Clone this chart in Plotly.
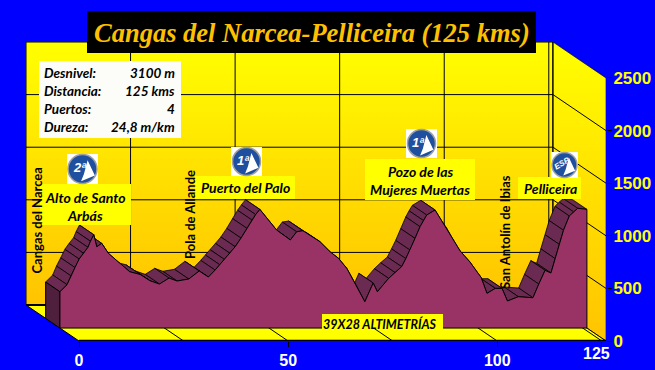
import plotly.graph_objects as go

# Data
km = [0,1.7,2.6,3.6,4.6,5.6,6.7,7.3,8.1,8.8,10.0,11.6,14.3,16.7,19.2,21.5,23.8,26.1,28.0,30.8,33.3,35.5,37.1,38.2,39.3,40.6,41.9,43.3,44.7,45.9,46.8,47.8,51.8,55.1,56.6,58.1,62.2,64.6,66.6,68.6,70.6,72.9,74.9,75.9,78.6,80.1,81.7,82.7,83.7,84.9,86.1,86.9,87.7,89.7,90.9,92.5,94.1,95.7,98.0,99.7,100.7,102.1,104.1,105.7,107.0,109.6,113.1,114.5,116.0,117.4,118.4,119.4,120.4,121.8,122.8,123.8,126]
alt = [345,412,497,575,656,712,767,825,887,773,805,710,615,535,509,450,418,475,447,466,542,485,551,602,653,712,773,855,948,1027,1078,1128,932,837,915,925,820,725,663,567,425,250,428,345,472,528,583,660,741,852,963,1022,1074,1122,1043,948,837,732,630,535,482,330,377,377,257,298,288,418,548,523,660,795,929,1065,1105,1138,1128]
x_ticks = [0, 50, 100, 125]
x_grid = [0, 25, 50, 75, 100, 125]
y_ticks = [0, 500, 1000, 1500, 2000, 2500]
title = "Cangas del Narcea-Pelliceira (125 kms)"
stats = [("Desnivel:", "3100 m"), ("Distancia:", "125 kms"), ("Puertos:", "4"), ("Dureza:", "24,8 m/km")]
km_max = 126
alt_max = 2500

# Oblique projection
DX, DY = 12.68, 342
RIB_F, RIB_B = 0.36, 0.63
def px(k, d): return k - DX * d
def py(a, d): return a + DY * d

W, H = 655, 370
L, R, T, B = 26, 49, 42, 29
PW, PH = W - L - R, H - T - B
def fx(X): return (X - L) / PW
def fy(Y): return (H - B - Y) / PH

BLACK = "#000000"
fig = go.Figure()

def poly(xs, ys, fill=None, line=BLACK, w=1, grad=None, mode="lines"):
    kw = dict(x=xs, y=ys, mode=mode, hoverinfo="skip", showlegend=False, cliponaxis=False,
              line=dict(color=line, width=w))
    if grad:
        kw["fill"] = "toself"; kw["fillgradient"] = grad
    elif fill:
        kw["fill"] = "toself"; kw["fillcolor"] = fill
    fig.add_trace(go.Scatter(**kw))

grad = dict(type="vertical", colorscale=[[0, "#FFC400"], [0.5, "#FFE000"], [1, "#FFFF00"]])
# back wall
poly([px(0,1), px(km_max,1), px(km_max,1), px(0,1), px(0,1)],
     [py(0,1), py(0,1), py(alt_max,1), py(alt_max,1), py(0,1)], grad=grad, w=1)
# right wall
poly([px(km_max,1), px(km_max,0), px(km_max,0), px(km_max,1), px(km_max,1)],
     [py(0,1), py(0,0), py(alt_max,0), py(alt_max,1), py(0,1)], grad=grad, w=0.6)
# floor
poly([px(0,1), px(km_max,1), px(km_max,0), px(0,0), px(0,1)],
     [py(0,1), py(0,1), py(0,0), py(0,0), py(0,1)], fill="#FFFF00", w=1)
# grid
for v in y_ticks[1:-1]:
    poly([px(0,1), px(km_max,1), px(km_max,0)], [py(v,1), py(v,1), py(v,0)])
for v in x_grid[1:]:
    poly([px(v,1), px(v,1), px(v,0)], [py(alt_max,1), py(0,1), py(0,0)])
poly([px(km_max,1), px(km_max,1)], [py(0,1), py(alt_max,1)])
# heavy floor lines
poly([px(0,1), px(km_max,1)], [py(0,1), py(0,1)], w=2)
poly([px(0,0), px(km_max,0)], [py(0,0), py(0,0)], w=2.5)

# ribbon: top surface, far (right) segments first
RIB = "#6B2A52"
for i in range(len(km) - 2, -1, -1):
    a, b = i, i + 1
    poly([px(km[a],RIB_F), px(km[b],RIB_F), px(km[b],RIB_B), px(km[a],RIB_B), px(km[a],RIB_F)],
         [py(alt[a],RIB_F), py(alt[b],RIB_F), py(alt[b],RIB_B), py(alt[a],RIB_B), py(alt[a],RIB_F)],
         fill=RIB, w=0.8)
# left cap
poly([px(0,RIB_F), px(0,RIB_B), px(0,RIB_B), px(0,RIB_F), px(0,RIB_F)],
     [py(0,RIB_F), py(0,RIB_B), py(alt[0],RIB_B), py(alt[0],RIB_F), py(0,RIB_F)], fill="#4F1F3E", w=1)
# front face
fig.add_trace(go.Scatter(
    x=[px(km[0],RIB_F)] + [px(k,RIB_F) for k in km] + [px(km[-1],RIB_F), px(km[0],RIB_F)],
    y=[py(0,RIB_F)] + [py(a,RIB_F) for a in alt] + [py(0,RIB_F), py(0,RIB_F)],
    mode="lines", fill="toself", fillcolor="#993366", line=dict(color=BLACK, width=1),
    hoverinfo="skip", showlegend=False, cliponaxis=False))

shapes, ann = [], []
def rect(x0, y0, x1, y1, color):
    shapes.append(dict(type="rect", xref="paper", yref="paper", x0=fx(x0), x1=fx(x1), y0=fy(y1), y1=fy(y0),
                       fillcolor=color, line=dict(width=0), layer="above"))
def text(X, Y, s, size, family="Lato", color=BLACK, anchor="center", angle=0):
    ann.append(dict(xref="paper", yref="paper", x=fx(X), y=fy(Y), text=s, showarrow=False,
                    xanchor=anchor, yanchor="middle", textangle=angle,
                    font=dict(family=family, size=size, color=color)))

# title
rect(87, 11, 536, 53, "#000000")
text(311.5, 33, "<b><i>%s</i></b>" % title, 26.5, family="Liberation Serif", color="#FFC000")

# stats
rect(39, 61, 181, 138, "#FCFDF8")
for row, (lab, val) in enumerate(stats):
    y = 73 + 18 * row
    text(42, y, "<b><i>%s</i></b>" % lab, 13.5, anchor="left")
    text(177, y, "<b><i>%s</i></b>" % val, 13.5, anchor="right")

# yellow labels
for (x0, y0, x1, y1) in [(40,184,131,225), (195,176,295,199), (365,159,475,200), (518,177,581,199), (322,314,443,329)]:
    rect(x0, y0, x1, y1, "#FFFF00")
for (X, Y, s) in [(85,197,"Alto de Santo"), (85,215,"Arbás"), (245,187.5,"Puerto del Palo"),
                  (420,171,"Pozo de las"), (420,189,"Mujeres Muertas"), (550,188,"Pelliceira")]:
    text(X, Y, "<b><i>%s</i></b>" % s, 14)
text(380, 324, "<b><i>39X28 ALTIMETRÍAS</i></b>", 12.5)

# vertical labels
text(36.5, 221, "<b>Cangas del Narcea</b>", 13, angle=-90)
text(190, 215, "<b>Pola de Allande</b>", 13, angle=-90)
text(505, 232, "<b>San Antolín de Ibias</b>", 13, angle=-90)

# pass badges
for (x0, y0, x1, y1, lab, ang, sz) in [(67,154,98,184,"2ª",0,13), (231,147,262,176,"1ª",0,13),
                                       (406,129,437,158,"1ª",0,13), (551,152,578,178,"ESP",-30,8)]:
    rect(x0, y0, x1, y1, "#FFFFFF")
    cx, cy = (x0 + x1) / 2, (y0 + y1) / 2
    r = min(x1 - x0, y1 - y0) / 2 - 0.5
    shapes.append(dict(type="circle", xref="paper", yref="paper", x0=fx(cx-r), x1=fx(cx+r), y0=fy(cy+r), y1=fy(cy-r),
                       fillcolor="#1F50A0", line=dict(color="#A0A0A0", width=1.5), layer="above"))
    pts = [(cx+r*0.85, cy+r*0.45), (cx+r*0.35, cy-r*0.6), (cx+r*0.1, cy+r*0.35), (cx-r*0.1, cy+r*0.85)]
    path = "M" + " L".join("%.4f,%.4f" % (fx(a), fy(b)) for a, b in pts) + " Z"
    shapes.append(dict(type="path", xref="paper", yref="paper", path=path, fillcolor="#FFFFFF", line=dict(width=0), layer="above"))
    text(cx - r*0.2, cy - r*0.1, "<b><i>%s</i></b>" % lab, sz, family="Liberation Sans", color="#FFFFFF", angle=ang)

# 125 sits up-left of its tick
ann.append(dict(xref="x", yref="paper", x=125, y=fy(353.5), text="<b>125</b>", showarrow=False, xshift=-5,
                xanchor="center", yanchor="middle", font=dict(family="Liberation Sans", size=16, color="#FFFFFF")))

fig.update_layout(
    width=W, height=H, autosize=False,
    margin=dict(l=L, r=R, t=T, b=B, pad=0),
    paper_bgcolor="#0000FF", plot_bgcolor="rgba(0,0,0,0)",
    showlegend=False, shapes=shapes, annotations=ann,
    xaxis=dict(range=[-DX, km_max], automargin=False, tickmode="array", tickvals=x_ticks,
               ticktext=["<b>0</b>", "<b>50</b>", "<b>100</b>", ""],
               ticks="outside", ticklen=5, tickcolor=BLACK, tickwidth=1, showgrid=False, zeroline=False, showline=False,
               tickfont=dict(family="Liberation Sans", size=16, color="#FFFFFF")),
    yaxis=dict(range=[0, alt_max + DY], automargin=False, side="right", tickmode="array", tickvals=y_ticks,
               ticktext=["<b>%d</b>" % v for v in y_ticks], ticklabelstandoff=-2,
               ticks="outside", ticklen=5, tickcolor=BLACK, tickwidth=1, showgrid=False, zeroline=False, showline=False,
               tickfont=dict(family="Liberation Sans", size=17, color="#FFFF00")),
)
fig.write_html("out.html", config={"displayModeBar": False},
               post_script="document.body.style.margin='0';document.body.style.overflow='hidden';document.body.style.background='#0000FF';")
